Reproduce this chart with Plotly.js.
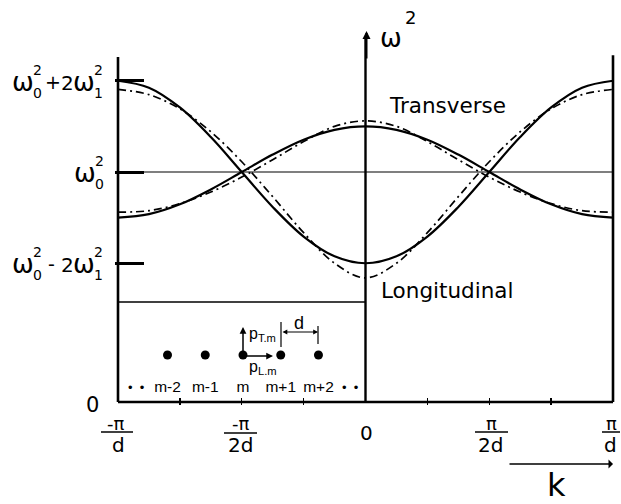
<!DOCTYPE html>
<html><head><meta charset="utf-8">
<script src="https://cdn.plot.ly/plotly-3.0.1.min.js"></script>
<style>html,body{margin:0;padding:0;background:#fff;}#chart{width:621px;height:504px;}</style>
</head><body><div id="chart"></div>
<script>
// wave vector k in units of pi/d
const kValues = [-1,-0.875,-0.75,-0.625,-0.5,-0.375,-0.25,-0.125,0,0.125,0.25,0.375,0.5,0.625,0.75,0.875,1];
// omega^2 (units: omega0^2 = 2.52, 2*omega1^2 = 1)
const transverseNN   = [2.02,2.058,2.166,2.329,2.52,2.711,2.874,2.982,3.02,2.982,2.874,2.711,2.52,2.329,2.166,2.058,2.02];
const longitudinalNN = [3.52,3.444,3.227,2.903,2.52,2.137,1.813,1.596,1.52,1.596,1.813,2.137,2.52,2.903,3.227,3.444,3.52];
const transverseAll  = [2.08,2.096,2.174,2.30,2.464,2.655,2.853,3.02,3.08,3.02,2.853,2.655,2.464,2.30,2.174,2.096,2.08];
const longitudinalAll= [3.425,3.368,3.212,2.961,2.632,2.25,1.855,1.52,1.36,1.52,1.855,2.25,2.632,2.961,3.212,3.368,3.425];
const levelValues = [1.52, 2.52, 3.52];          // w0^2-2w1^2, w0^2, w0^2+2w1^2
const kTickValues = [-0.75,-0.5,-0.25,0.25,0.5,0.75];
const siteLabels  = ['m-2','m-1','m','m+1','m+2'];
const siteOffsets = [-2,-1,0,1,2];

// ---- geometry (layout only) ----
const W = 621, H = 504, ML = 115, MR = 5, MT = 30, MB = 99;
const PW = W - ML - MR, PH = H - MT - MB;
const px = x => (x - ML) / PW;          // pixel -> paper x
const py = y => (H - MB - y) / PH;      // pixel -> paper y
const FONT = 'DejaVu Sans, sans-serif';
const IFONT = 'Liberation Sans, Arial, sans-serif';
const siteCenter = -0.495, siteSpacing = 0.1525, siteY = 0.515, siteLabelY = 0.155;

const traces = [
  {x: kValues, y: transverseNN, mode: 'lines', line: {color: '#000', width: 2.2, shape: 'spline', smoothing: 1}},
  {x: kValues, y: longitudinalNN, mode: 'lines', line: {color: '#000', width: 2.2, shape: 'spline', smoothing: 1}},
  {x: kValues, y: transverseAll, mode: 'lines', line: {color: '#000', width: 1.7, dash: '8px,4px,2px,4px', shape: 'spline', smoothing: 1}},
  {x: kValues, y: longitudinalAll, mode: 'lines', line: {color: '#000', width: 1.7, dash: '8px,4px,2px,4px', shape: 'spline', smoothing: 1}},
  {x: siteOffsets.map(i => siteCenter + i * siteSpacing), y: siteOffsets.map(() => siteY),
   mode: 'markers', marker: {color: '#000', size: 9}},
  {x: siteOffsets.map(i => siteCenter + i * siteSpacing), y: siteOffsets.map(() => siteLabelY),
   mode: 'text', text: siteLabels, textfont: {family: IFONT, size: 15.5, color: '#000'}, cliponaxis: false}
];

const ann = [];
function t(text, x, y, size, extra) {
  ann.push(Object.assign({text: text, xref: 'paper', yref: 'paper', x: px(x), y: py(y),
    xanchor: 'center', yanchor: 'middle', showarrow: false,
    font: {family: FONT, size: size, color: '#000'}}, extra || {}));
}
function arrow(x1, y1, x0, y0, opts) {
  ann.push(Object.assign({text: '', xref: 'paper', yref: 'paper', x: px(x1), y: py(y1),
    ax: x0 - x1, ay: y0 - y1, axref: 'pixel', ayref: 'pixel', showarrow: true,
    arrowhead: 2, arrowsize: 1, arrowwidth: 1.5, arrowcolor: '#000'}, opts || {}));
}

// left level labels
function omegaPair(x, ly, sub) {
  t('ω', x, ly + 1, 26);
  t('2', x + 14.5, ly - 11, 14);
  t(sub, x + 14.5, ly + 12, 14);
}
const Ltop = 80.7, Lmid = 172, Lbot = 263.3;
omegaPair(22.5, Ltop, '0'); t('+', 52.5, Ltop + 1, 19); t('2', 67.5, Ltop + 2, 20); omegaPair(84, Ltop, '1');
omegaPair(85, Lmid, '0');
omegaPair(22.5, Lbot, '0'); t('-', 51, Lbot + 1, 19); t('2', 67.5, Lbot + 2, 20); omegaPair(84, Lbot, '1');

// axis title omega^2
t('ω', 391, 38, 26); t('2', 410, 18, 18);
t('Transverse', 447.5, 105.5, 21.5);
t('Longitudinal', 446.5, 290, 21.5);

// bottom labels
t('0', 92, 405, 21);
t('-π', 115, 423, 18); t('d', 118, 445, 20);
t('-π', 240, 423, 18); t('2d', 240.5, 445, 20);
t('0', 366, 433, 20);
t('π', 491.5, 423, 18); t('2d', 490, 445, 20);
t('π', 611, 423, 18); t('d', 610.5, 445, 20);
t('k', 556, 485, 32);
arrow(613, 464, 508, 464, {arrowhead: 1, arrowwidth: 1.5, arrowsize: 1});

// inset labels
t('•  •', 136.5, 387, 13, {font: {family: IFONT, size: 13, color: '#000'}});
t('•  •', 350.5, 387, 13, {font: {family: IFONT, size: 13, color: '#000'}});
arrow(243, 327, 243, 355, {arrowhead: 2, arrowsize: 0.9, arrowwidth: 1.5});
arrow(273, 356, 243, 356, {arrowhead: 2, arrowsize: 0.9, arrowwidth: 1.5});
t('p<sub>T.m</sub>', 247, 334, 16, {xanchor: 'left', font: {family: IFONT, size: 16, color: '#000'}});
t('p<sub>L.m</sub>', 247, 367, 16, {xanchor: 'left', font: {family: IFONT, size: 16, color: '#000'}});
arrow(318, 332, 281, 332, {arrowhead: 2, arrowsize: 0.8, arrowwidth: 1.2, arrowside: 'end+start'});
t('d', 299, 323, 18, {font: {family: IFONT, size: 18, color: '#000'}});

const shapes = [];
function seg(x0, y0, x1, y1, w, ref) {
  const s = {type: 'line', x0: x0, y0: y0, x1: x1, y1: y1, line: {color: '#000', width: w}};
  if (ref === 'paper') { s.xref = 'paper'; s.yref = 'paper'; s.x0 = px(x0); s.x1 = px(x1); s.y0 = py(y0); s.y1 = py(y1); }
  else { s.xref = 'x'; s.yref = 'y'; }
  shapes.push(s);
}
// frame lines (data coords)
seg(-1, 0, -1, 3.78, 2.6);
seg(1, 0, 1, 3.80, 2.6);
seg(-1, 0, 1, 0, 2.6);
seg(0, 0, 0, 4.0, 2.4);
seg(-1, levelValues[1], 1, levelValues[1], 1.2);
seg(-1, 1.096, 0, 1.096, 1.5);
// vertical axis arrow head
arrow(366.5, 31, 366.5, 60, {arrowhead: 2, arrowsize: 0.8, arrowwidth: 2});
// fraction bars
seg(101, 432, 133, 432, 1.5, 'paper');
seg(224, 433, 257, 433, 1.5, 'paper');
seg(475, 432, 508, 432, 1.5, 'paper');
seg(602, 432, 620, 432, 1.5, 'paper');
// d markers in inset
seg(281, 322, 281, 347, 1.2, 'paper');
seg(318, 326, 318, 344, 1.2, 'paper');

const layout = {
  width: W, height: H, showlegend: false,
  margin: {l: ML, r: MR, t: MT, b: MB, pad: 0},
  paper_bgcolor: '#fff', plot_bgcolor: '#fff',
  xaxis: {range: [-1.01212, 1.01212], showgrid: false, zeroline: false, showline: false,
    tickmode: 'array', tickvals: kTickValues, ticks: 'inside', ticklen: 7, tickwidth: 1.3,
    tickcolor: '#000', showticklabels: false},
  yaxis: {range: [-0.033, 4.076], showgrid: false, zeroline: false, showline: false,
    tickmode: 'array', tickvals: levelValues, ticks: 'inside', ticklen: 29, tickwidth: 3,
    tickcolor: '#000', showticklabels: false},
  annotations: ann, shapes: shapes
};
Plotly.newPlot('chart', traces, layout, {displayModeBar: false, staticPlot: true});
</script></body></html>
